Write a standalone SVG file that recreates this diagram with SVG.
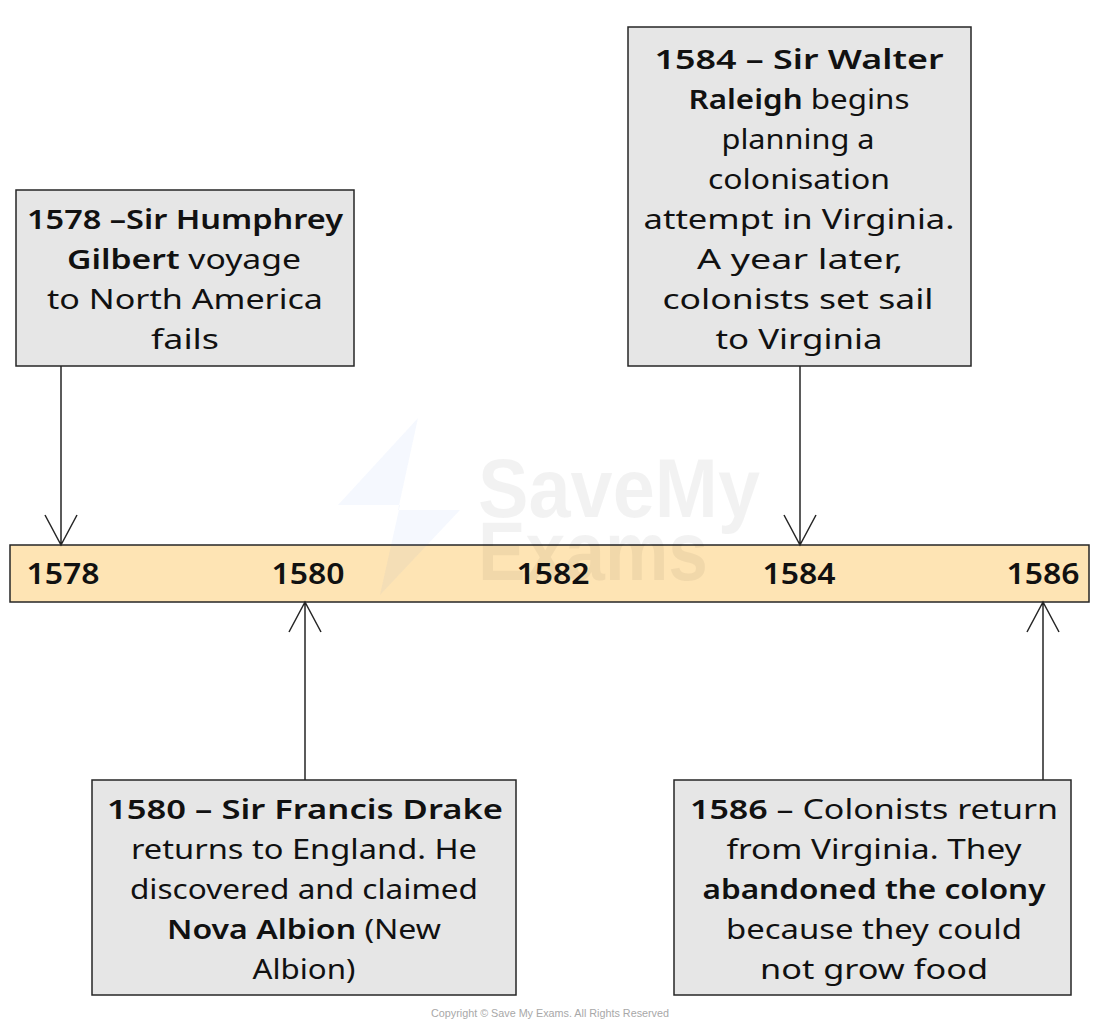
<svg xmlns="http://www.w3.org/2000/svg" width="1100" height="1026" viewBox="0 0 1100 1026">
<style>
.box{fill:#e6e6e6;stroke:#262626;stroke-width:1.5}
.bar{fill:#fee4b4;stroke:#262626;stroke-width:1.5}
.t{font-family:"Noto Sans","Liberation Sans",sans-serif;font-size:27px;fill:#111;text-anchor:middle}
.b{font-weight:600}
.yr{font-family:"Noto Sans","Liberation Sans",sans-serif;font-size:28px;font-weight:600;fill:#111;text-anchor:middle}
.conn{stroke:#262626;stroke-width:1.5;fill:none}
.wm{font-family:"Liberation Sans",sans-serif;font-weight:bold;font-size:84px;fill:#000;fill-opacity:0.05}
.cp{font-family:"Liberation Sans",sans-serif;font-size:11px;fill:#a8a8a8;text-anchor:middle}
</style>
<rect width="1100" height="1026" fill="#ffffff"/>
<g id="timeline">
<rect class="bar" x="10" y="545" width="1079" height="57"/>
<text class="yr" x="63" y="584" textLength="73" lengthAdjust="spacingAndGlyphs">1578</text>
<text class="yr" x="308" y="584" textLength="73" lengthAdjust="spacingAndGlyphs">1580</text>
<text class="yr" x="553" y="584" textLength="73" lengthAdjust="spacingAndGlyphs">1582</text>
<text class="yr" x="799" y="584" textLength="73" lengthAdjust="spacingAndGlyphs">1584</text>
<text class="yr" x="1043" y="584" textLength="73" lengthAdjust="spacingAndGlyphs">1586</text>
</g>
<g id="watermark">
<polygon points="418,418 338,505 400,505 380,595 460,510 398,510" fill="#3a6ff0" fill-opacity="0.05"/>
<text class="wm" x="478" y="517" textLength="282" lengthAdjust="spacingAndGlyphs">SaveMy</text>
<text class="wm" x="478" y="580" textLength="230" lengthAdjust="spacingAndGlyphs">Exams</text>
</g>
<g id="connectors">
<path class="conn" d="M61,366 V545 M45,515 L61,545 L77,515"/>
<path class="conn" d="M800,366 V545 M784,515 L800,545 L816,515"/>
<path class="conn" d="M305,780 V602 M289,632 L305,602 L321,632"/>
<path class="conn" d="M1043,780 V602 M1027,632 L1043,602 L1059,632"/>
</g>
<g id="node-1578">
<rect class="box" x="16" y="190" width="338" height="176"/>
<text class="t" x="185" y="229" textLength="316" lengthAdjust="spacingAndGlyphs"><tspan class="b">1578 –Sir Humphrey</tspan></text>
<text class="t" x="184" y="269" textLength="234" lengthAdjust="spacingAndGlyphs"><tspan class="b">Gilbert</tspan> voyage</text>
<text class="t" x="185" y="309" textLength="276" lengthAdjust="spacingAndGlyphs">to North America</text>
<text class="t" x="185" y="349" textLength="68" lengthAdjust="spacingAndGlyphs">fails</text>
</g>
<g id="node-1584">
<rect class="box" x="628" y="27" width="343" height="339"/>
<text class="t" x="799" y="69" textLength="289" lengthAdjust="spacingAndGlyphs"><tspan class="b">1584 – Sir Walter</tspan></text>
<text class="t" x="799" y="109" textLength="221" lengthAdjust="spacingAndGlyphs"><tspan class="b">Raleigh</tspan> begins</text>
<text class="t" x="798" y="149" textLength="153" lengthAdjust="spacingAndGlyphs">planning a</text>
<text class="t" x="799" y="189" textLength="182" lengthAdjust="spacingAndGlyphs">colonisation</text>
<text class="t" x="799" y="229" textLength="311" lengthAdjust="spacingAndGlyphs">attempt in Virginia.</text>
<text class="t" x="800" y="269" textLength="206" lengthAdjust="spacingAndGlyphs">A year later,</text>
<text class="t" x="798" y="309" textLength="271" lengthAdjust="spacingAndGlyphs">colonists set sail</text>
<text class="t" x="799" y="349" textLength="167" lengthAdjust="spacingAndGlyphs">to Virginia</text>
</g>
<g id="node-1580">
<rect class="box" x="92" y="780" width="424" height="215"/>
<text class="t" x="305" y="819" textLength="396" lengthAdjust="spacingAndGlyphs"><tspan class="b">1580 – Sir Francis Drake</tspan></text>
<text class="t" x="304" y="859" textLength="346" lengthAdjust="spacingAndGlyphs">returns to England. He</text>
<text class="t" x="304" y="899" textLength="348" lengthAdjust="spacingAndGlyphs">discovered and claimed</text>
<text class="t" x="304" y="939" textLength="274" lengthAdjust="spacingAndGlyphs"><tspan class="b">Nova Albion</tspan> (New</text>
<text class="t" x="304" y="979" textLength="103" lengthAdjust="spacingAndGlyphs">Albion)</text>
</g>
<g id="node-1586">
<rect class="box" x="674" y="780" width="397" height="215"/>
<text class="t" x="874" y="819" textLength="368" lengthAdjust="spacingAndGlyphs"><tspan class="b">1586</tspan> – Colonists return</text>
<text class="t" x="874" y="859" textLength="295" lengthAdjust="spacingAndGlyphs">from Virginia. They</text>
<text class="t" x="874" y="899" textLength="343" lengthAdjust="spacingAndGlyphs"><tspan class="b">abandoned the colony</tspan></text>
<text class="t" x="874" y="939" textLength="296" lengthAdjust="spacingAndGlyphs">because they could</text>
<text class="t" x="874" y="979" textLength="228" lengthAdjust="spacingAndGlyphs">not grow food</text>
</g>
<text class="cp" x="550" y="1017" textLength="238" lengthAdjust="spacingAndGlyphs">Copyright © Save My Exams. All Rights Reserved</text>
</svg>
